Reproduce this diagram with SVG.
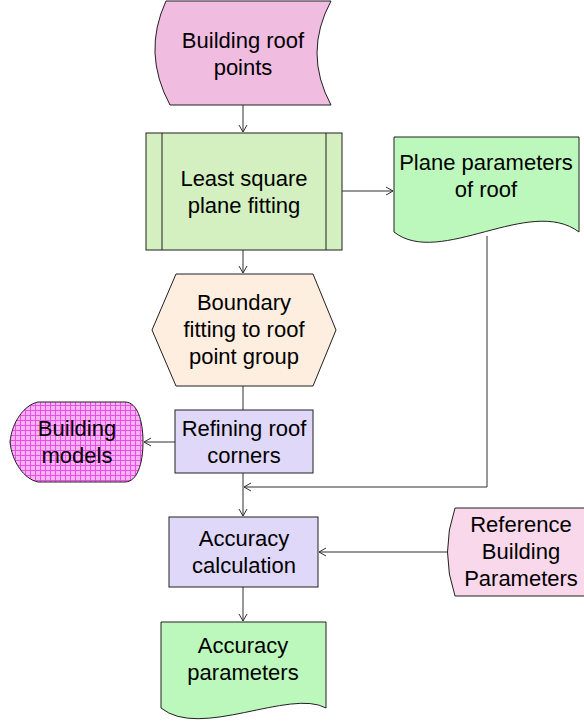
<svg xmlns="http://www.w3.org/2000/svg" width="584" height="725" viewBox="0 0 584 725">
<style>
.s{stroke:#202020;stroke-width:1}
.t{font-family:"Liberation Sans",Arial,sans-serif;font-size:22px;fill:#000;text-anchor:middle}
.c{fill:none;stroke:#303030;stroke-width:1}
</style>
<defs>
<marker id="ah" markerWidth="10" markerHeight="10" refX="8" refY="5" orient="auto" markerUnits="userSpaceOnUse">
<path d="M1,1 L8,5 L1,9" fill="none" stroke="#303030" stroke-width="1"/>
</marker>
<pattern id="grid" width="5" height="5" patternUnits="userSpaceOnUse">
<rect width="5" height="5" fill="#f6b4f2"/>
<path d="M0,0.5 H5 M0.5,0 V5" stroke="#ec4cea" stroke-width="1"/>
</pattern>
</defs>
<rect width="584" height="725" fill="#fff"/>
<g id="connectors">
<line class="c" x1="243" y1="105" x2="243" y2="132" marker-end="url(#ah)"/>
<line class="c" x1="342" y1="191" x2="393" y2="191" marker-end="url(#ah)"/>
<line class="c" x1="243" y1="250" x2="243" y2="273" marker-end="url(#ah)"/>
<line class="c" x1="243" y1="386" x2="243" y2="410"/>
<line class="c" x1="175" y1="442" x2="144" y2="442" marker-end="url(#ah)"/>
<line class="c" x1="243" y1="473" x2="243" y2="516" marker-end="url(#ah)"/>
<polyline class="c" points="487,236 487,487 244,487" marker-end="url(#ah)"/>
<line class="c" x1="447" y1="552" x2="319" y2="552" marker-end="url(#ah)"/>
<line class="c" x1="243" y1="587" x2="243" y2="621" marker-end="url(#ah)"/>
</g>
<g id="building-roof-points">
<path class="s" fill="#f0bce0" d="M166,1 L331,1 Q303,53 331,105 L170,105 Q142,53 166,1 Z"/>
<text class="t" x="243" y="48">Building roof</text>
<text class="t" x="243" y="75">points</text>
</g>
<g id="least-square">
<rect class="s" fill="#d4f0c0" x="146" y="133" width="196" height="117"/>
<line class="s" x1="162" y1="133" x2="162" y2="250"/>
<line class="s" x1="326" y1="133" x2="326" y2="250"/>
<text class="t" x="244" y="186">Least square</text>
<text class="t" x="244" y="213">plane fitting</text>
</g>
<g id="plane-parameters">
<path class="s" fill="#bcf8bc" d="M394,137 H579 V232 C530,195 440,268 394,232 Z"/>
<text class="t" x="486" y="170">Plane parameters</text>
<text class="t" x="486" y="197">of roof</text>
</g>
<g id="boundary">
<polygon class="s" fill="#fdeedf" points="176,274 313,274 336,330 313,386 176,386 152,330"/>
<text class="t" x="244" y="310">Boundary</text>
<text class="t" x="244" y="337">fitting to roof</text>
<text class="t" x="244" y="364">point group</text>
</g>
<g id="refining">
<rect class="s" fill="#e0d8f8" x="175" y="410" width="138" height="63"/>
<text class="t" x="244" y="436">Refining roof</text>
<text class="t" x="244" y="463">corners</text>
</g>
<g id="building-models">
<path class="s" fill="url(#grid)" d="M38,402 L125,402 C137,402 143,420 143,442 C143,464 137,482 125,482 L38,482 C24,479 12,462 10,442 C12,422 24,405 38,402 Z"/>
<text class="t" x="77" y="436">Building</text>
<text class="t" x="77" y="463">models</text>
</g>
<g id="accuracy-calculation">
<rect class="s" fill="#e0d8f8" x="169" y="517" width="149" height="70"/>
<text class="t" x="244" y="546">Accuracy</text>
<text class="t" x="244" y="573">calculation</text>
</g>
<g id="reference">
<path class="s" fill="#f8d8ea" d="M455,508 L600,508 Q570,552 600,596 L455,596 Q440,552 455,508 Z"/>
<text class="t" x="521" y="532">Reference</text>
<text class="t" x="521" y="559">Building</text>
<text class="t" x="521" y="586">Parameters</text>
</g>
<g id="accuracy-parameters">
<path class="s" fill="#bcf8bc" d="M161,622 H326 V708 C290,688 200,740 161,708 Z"/>
<text class="t" x="243" y="653">Accuracy</text>
<text class="t" x="243" y="680">parameters</text>
</g>
</svg>
